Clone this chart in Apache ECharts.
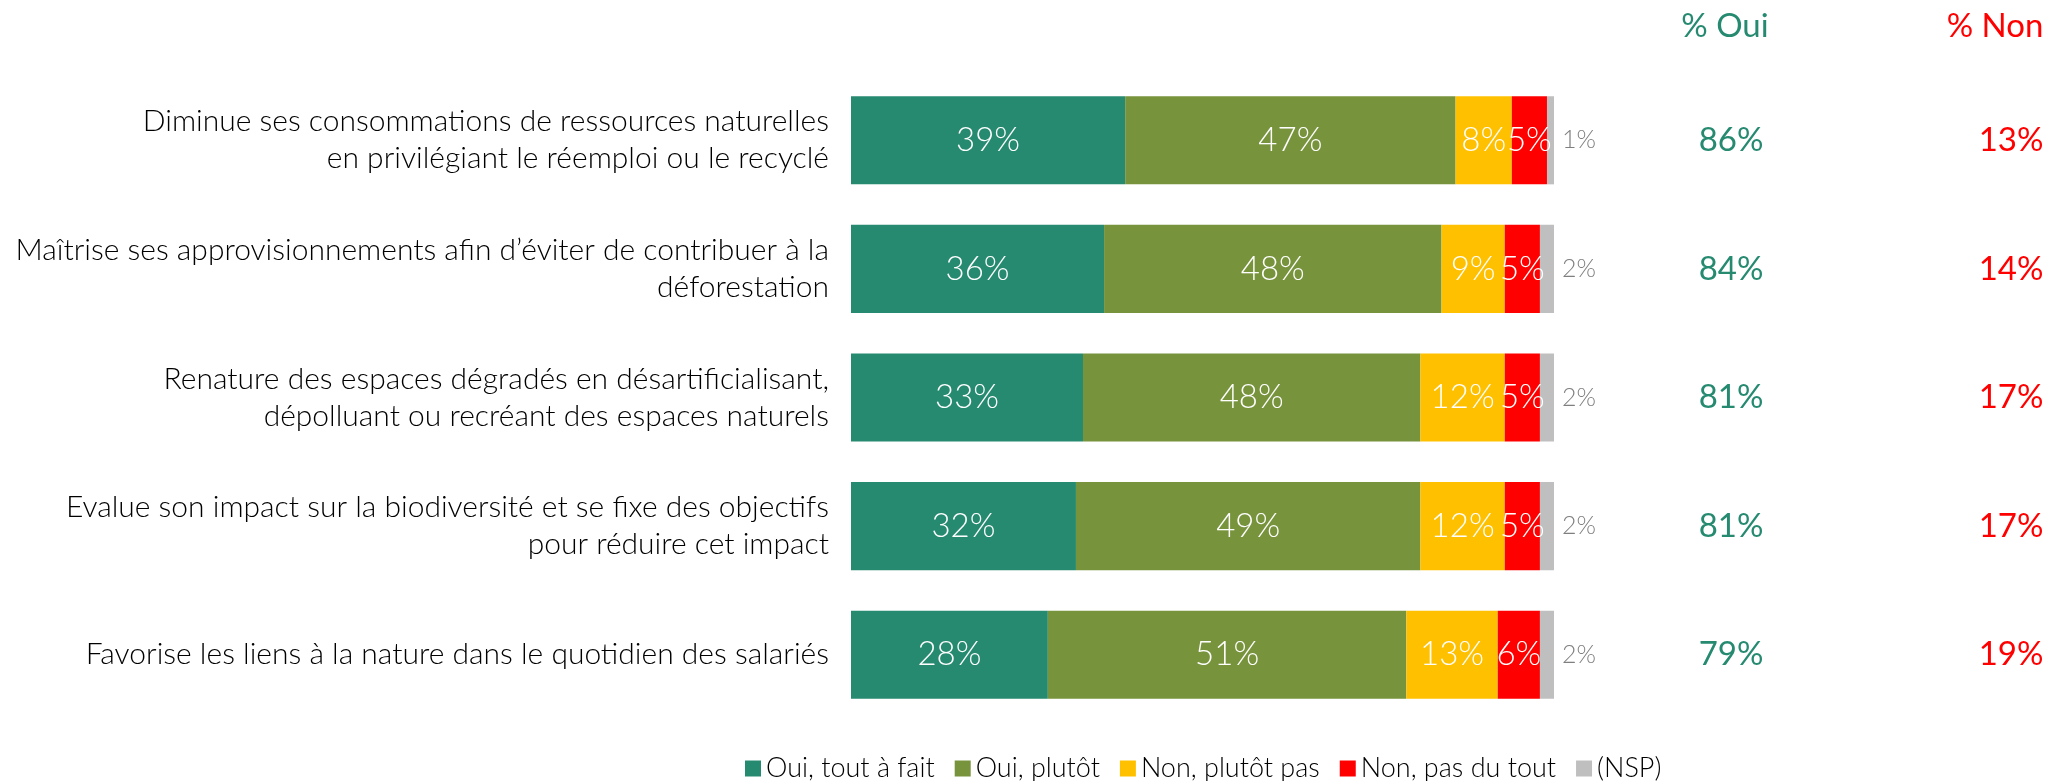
<!DOCTYPE html>
<html>
<head>
<meta charset="utf-8">
<script src="https://cdn.jsdelivr.net/npm/echarts@6/dist/echarts.min.js"></script>
<style>
html, body { margin: 0; padding: 0; background: #fff; }
#chart { width: 2069px; height: 781px; }
</style>
</head>
<body>
<div id="chart"></div>
<script>
// libellés des items (retours à la ligne comme dans l'original)
var categories = [
    'Diminue ses consommations de ressources naturelles\nen privilégiant le réemploi ou le recyclé',
    'Maîtrise ses approvisionnements afin d’éviter de contribuer à la\ndéforestation',
    'Renature des espaces dégradés en désartificialisant,\ndépolluant ou recréant des espaces naturels',
    'Evalue son impact sur la biodiversité et se fixe des objectifs\npour réduire cet impact',
    'Favorise les liens à la nature dans le quotidien des salariés'
];
var seriesNames = ['Oui, tout à fait', 'Oui, plutôt', 'Non, plutôt pas', 'Non, pas du tout', '(NSP)'];
var toutAFait = [39, 36, 33, 32, 28];
var plutot = [47, 48, 48, 49, 51];
var plutotPas = [8, 9, 12, 12, 13];
var pasDuTout = [5, 5, 5, 5, 6];
var nsp = [1, 2, 2, 2, 2];
var totalOui = [86, 84, 81, 81, 79];
var totalNon = [13, 14, 17, 17, 19];

var colors = ['#268a71', '#77933c', '#ffc000', '#ff0000', '#bfbfbf'];
var fontFamily = 'Lato, "Open Sans", sans-serif';

var myChart = echarts.init(document.getElementById('chart'));

function barSerie(idx, data) {
    var isNsp = idx == 4;
    return {
        name: seriesNames[idx],
        type: 'bar',
        stack: 'total',
        barWidth: '68.5%',
        yAxisIndex: 0,
        itemStyle: { color: colors[idx] },
        label: {
            show: true,
            position: isNsp ? 'right' : 'inside',
            distance: 8,
            color: isNsp ? '#7f7f7f' : '#fff',
            fontFamily: fontFamily,
            fontWeight: 300,
            fontSize: isNsp ? 25 : 33,
            formatter: '{c}%'
        },
        data: data
    };
}

function colAxis(values, offset, color) {
    return {
        type: 'category',
        position: 'right',
        inverse: true,
        offset: offset,
        data: values.map(function (v) { return v + '%'; }),
        axisLine: { show: false },
        axisTick: { show: false },
        axisLabel: {
            margin: 0,
            align: 'center',
            color: color,
            fontFamily: fontFamily,
            fontSize: 33
        }
    };
}

myChart.setOption({
    animation: false,
    grid: { left: 851, right: 515, top: 76, bottom: 62 },
    legend: {
        top: 750,
        left: 740,
        icon: 'rect',
        itemWidth: 16,
        itemHeight: 16,
        itemGap: 20,
        textStyle: { color: '#000', fontFamily: fontFamily, fontWeight: 300, fontSize: 27 },
        data: seriesNames
    },
    graphic: [
        { type: 'text', x: 1725, y: 26, style: { text: '% Oui', fill: colors[0], font: '33px ' + fontFamily, textAlign: 'center', textVerticalAlign: 'middle' } },
        { type: 'text', x: 1995, y: 26, style: { text: '% Non', fill: '#ff0000', font: '33px ' + fontFamily, textAlign: 'center', textVerticalAlign: 'middle' } }
    ],
    xAxis: { type: 'value', min: 0, max: 100, show: false },
    yAxis: [
        {
            type: 'category',
            inverse: true,
            data: categories,
            axisLine: { show: false },
            axisTick: { show: false },
            axisLabel: {
                margin: 22,
                align: 'right',
                color: '#000',
                fontFamily: fontFamily,
                fontWeight: 300,
                fontSize: 30,
                lineHeight: 37
            }
        },
        colAxis(totalOui, 177, colors[0]),
        colAxis(totalNon, 457, '#ff0000')
    ],
    series: [
        barSerie(0, toutAFait),
        barSerie(1, plutot),
        barSerie(2, plutotPas),
        barSerie(3, pasDuTout),
        barSerie(4, nsp)
    ]
});
</script>
</body>
</html>
